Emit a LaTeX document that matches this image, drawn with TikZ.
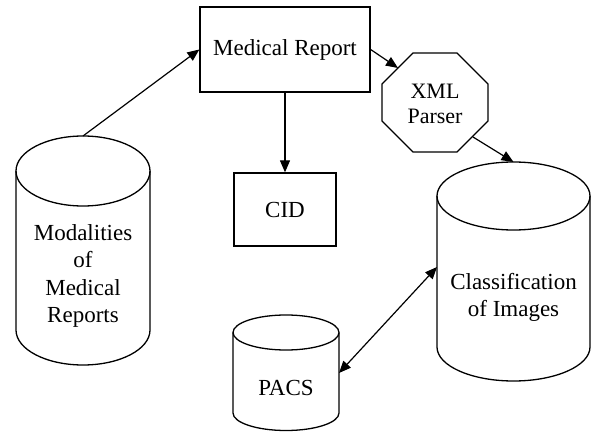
\documentclass[tikz,border=0pt]{standalone}
\usepackage{fontspec}
\setmainfont[Ligatures=NoCommon]{Liberation Serif}
\usetikzlibrary{arrows.meta}
\begin{document}
\begin{tikzpicture}[x=1pt,y=1pt,line width=1.3pt,
  txt/.style={font=\fontsize{23}{27.5}\selectfont, align=center, inner sep=0pt},
  smalltxt/.style={font=\fontsize{22}{25}\selectfont, align=center, inner sep=0pt},
  boxnode/.style={draw, txt},
  arr/.style={-{Triangle[length=12pt,width=10pt]}, line width=1.2pt},
  dblarr/.style={{Triangle[length=12pt,width=10pt]}-{Triangle[length=12pt,width=10pt]}, line width=1.2pt},
  cyl/.style={draw, line width=1.3pt}]
\useasboundingbox (0,0) rectangle (593,431);

% Medical Report and CID boxes
\node[boxnode, minimum width=170, minimum height=85] (mr) at (285,381.5) {Medical Report};
\node[boxnode, minimum width=102, minimum height=73] (cid) at (285,221.5) {CID};

% Modalities cylinder
\draw[cyl] (16,260) -- (16,101) arc[start angle=180, end angle=360, x radius=67, y radius=35] -- (150,260);
\draw[cyl] (83,260) ellipse[x radius=67, y radius=35];
\node[txt] (mod) at (83,155) {Modalities\\of\\Medical\\Reports};
\coordinate (modtop) at (83,295);

% Classification cylinder
\draw[cyl] (437,235) -- (437,84) arc[start angle=180, end angle=360, x radius=76.5, y radius=34] -- (590,235);
\draw[cyl] (513.5,235) ellipse[x radius=76.5, y radius=34];
\node[txt] (cls) at (513.5,133.5) {Classification\\of Images};
\coordinate (clstop) at (513.5,269);
\coordinate (clsleft) at (437,164);

% PACS cylinder
\draw[cyl] (233,98.5) -- (233,18) arc[start angle=180, end angle=360, x radius=53, y radius=17.5] -- (339,98.5);
\draw[cyl] (286,98.5) ellipse[x radius=53, y radius=17.5];
\node[txt] (pacs) at (286,43) {PACS};
\coordinate (pacsright) at (339,58);

% XML Parser octagon
\draw[cyl] (413,378) -- (457,378) -- (488,347) -- (488,310) -- (457,279) -- (413,279) -- (382,310) -- (382,347) -- cycle;
\node[smalltxt] (xml) at (435,327) {XML\\Parser};
\coordinate (xmlin) at (398,363);
\coordinate (xmlout) at (473,294);

% Connectors
\draw[arr] (modtop) -- (mr.west);
\draw[arr] (mr.south) -- (cid.north);
\draw[arr] (mr.east) -- (xmlin);
\draw[arr] (xmlout) -- (clstop);
\draw[dblarr] (pacsright) -- (clsleft);
\end{tikzpicture}
\end{document}
